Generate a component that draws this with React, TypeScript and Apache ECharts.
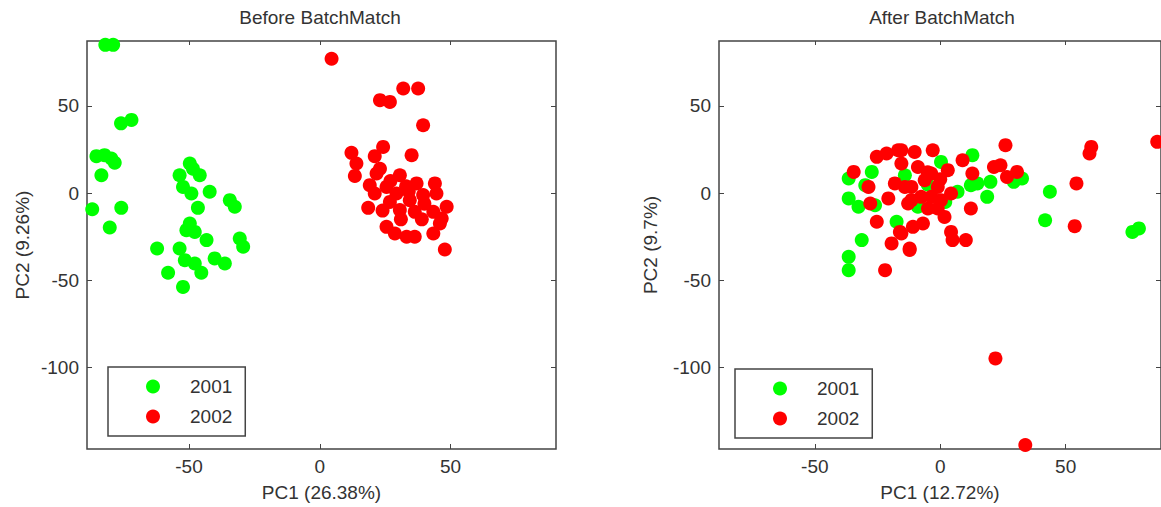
import React, { useEffect, useRef } from "react";
import * as echarts from "echarts";

const legendNames = ["2001", "2002"];
const xTickValues = [-50, 0, 50];
const yTickValues = [-100, -50, 0, 50];

const before2001: number[][] = [
  [-82, 85], [-79, 85], [-76, 40], [-72, 42], [-85.4, 21.2], [-82.3, 21.8], [-79.7, 19.9], [-78.4, 17.4],
  [-83.5, 10.3], [-87, -9.2], [-75.9, -8.4], [-80.3, -19.7],
  [-49.7, 17], [-48.5, 14], [-53.6, 10.3], [-45.9, 10.3], [-52.3, 3.6], [-49.1, -0.2], [-42.1, 0.8],
  [-46.6, -8.4], [-34.4, -4], [-32.5, -7.8], [-49.7, -17.4], [-51, -21.2], [-47.8, -22.2], [-43.3, -26.9],
  [-30.6, -26], [-29.3, -30.7], [-62.2, -31.7], [-53.6, -31.7], [-51.6, -38.4], [-47.8, -40.3],
  [-45.3, -45.6], [-40.2, -37.4], [-36.3, -40.3], [-58, -45.6], [-52.3, -53.7],
];

const before2002: number[][] = [
  [4.5, 77], [23, 53.3], [26.8, 52.3], [31.9, 60], [37.6, 60], [39.5, 38.9], [24.2, 26.5], [12.1, 23.1],
  [21, 21.2], [35.1, 21.8], [14, 17], [13.4, 9.9], [21.7, 11.3], [23, 14], [30.6, 10.3], [27, 7],
  [19.1, 4.6], [25.5, 3.6], [33, 4], [37, 5.6], [44, 5.6], [21, -0.2], [29.3, -0.2], [34, 1],
  [39.5, -1.1], [44.6, -0.2], [26.8, -5], [34.4, -4], [40, -6], [48.5, -7.8], [18.5, -8.4], [24, -10],
  [30.6, -9.7], [36.3, -10.7], [43.4, -10.7], [46.6, -14.5], [45.9, -17.4], [25.5, -19.3], [28.7, -23.1],
  [33.2, -25], [36.3, -25], [43.4, -23.1], [47.8, -32.3], [31, -15], [39, -15],
];

const after2001: number[][] = [
  [-36.5, 8.4], [-27.3, 12.2], [-36.5, -3], [-32.6, -7.8], [-29.9, 4.6], [-26, -6.9], [-31.3, -26.9],
  [-36.5, -36.5], [-36.5, -44.1], [-17.4, -16.4], [-14.1, 10.3], [-8.9, -7.8], [0.3, 17.9], [12.8, 21.8],
  [12.2, 4.6], [14.8, 5.6], [20, 6.5], [18.7, -2.1], [29.3, 6.5], [32.6, 8.4], [43.7, 0.8], [41.8, -15.5],
  [76.6, -22.2], [79.2, -20.2], [6.9, 0.8], [-5, 5], [2, -5],
];

const after2002: number[][] = [
  [-34.5, 12.2], [-28.6, 3.6], [-27.9, -5.9], [-25.3, 20.8], [-21.4, 22.7], [-16.8, 24.6], [-10.2, 23.6],
  [-15.5, 24.6], [-3, 24.6], [-20.7, -3], [-18.1, 5.6], [-12.8, -5.9], [-25.3, -16.4], [-16.1, -22.2],
  [-19.4, -28.8], [-12.2, -32.6], [-22, -44.1], [-10.9, -19.3], [-6.9, -17.4], [-6.2, 7.4], [-8.9, 15],
  [-11.5, 3.6], [-7.6, -2.1], [-3.6, 11.3], [-1, 3.6], [3, 13.2], [4.3, -0.2], [0.3, -4], [-3.6, -2.1],
  [-4.9, -8.8], [-11.5, -4], [-14.1, 3.6], [-15.5, 17], [-1, -8.8], [1.7, -13.6], [8.9, 18.9], [12.8, 11.3],
  [21.4, 15], [24, 16], [26.6, 9.3], [30.6, 12.2], [12.2, -8.8], [4.3, -22.2], [10.2, -26.9], [4.9, -26.9],
  [-15.5, -23.1], [-12.2, -31.7], [26, 27.5], [60.2, 26.5], [59.5, 22.7], [86.5, 29.4], [54.3, 5.6],
  [53.6, -18.9], [22, -94.7], [33.9, -144.3], [-5, 12], [0, 8],
];

const FONT = "'Liberation Sans', Arial, Helvetica, sans-serif";
const TEXT = "#333333";
const AXIS = "#444444";
const GREEN = "#00ff00";
const RED = "#ff0000";

export default function App() {
  const ref = useRef<HTMLDivElement>(null);

  useEffect(() => {
    if (!ref.current) return;
    const chart = echarts.init(ref.current, undefined, { renderer: "svg" });

    const tick = { show: true, inside: true, length: 5, lineStyle: { color: AXIS, width: 1 } };
    const label = { color: TEXT, fontSize: 19, fontFamily: FONT };
    const noLine = { show: false, onZero: false };

    const xBottom = (gridIndex: number, min: number, max: number, name: string) => ({
      type: "value", gridIndex, min, max, position: "bottom",
      name, nameLocation: "middle", nameGap: 34,
      nameTextStyle: { ...label },
      axisLine: noLine,
      splitLine: { show: false },
      axisTick: { ...tick, customValues: xTickValues },
      axisLabel: { ...label, margin: 8, customValues: xTickValues },
    });
    const xTop = (gridIndex: number, min: number, max: number) => ({
      type: "value", gridIndex, min, max, position: "top",
      axisLine: noLine, splitLine: { show: false },
      axisTick: { ...tick, length: 4, customValues: xTickValues },
      axisLabel: { show: false },
    });
    const yLeft = (gridIndex: number, name: string, gap: number) => ({
      type: "value", gridIndex, min: -146.6, max: 87.2, position: "left",
      name, nameLocation: "middle", nameGap: gap, nameRotate: 90,
      nameTextStyle: { ...label },
      axisLine: noLine, splitLine: { show: false },
      axisTick: { ...tick, customValues: yTickValues },
      axisLabel: { ...label, margin: 8, customValues: yTickValues },
    });
    const yRight = (gridIndex: number) => ({
      type: "value", gridIndex, min: -146.6, max: 87.2, position: "right",
      axisLine: noLine, splitLine: { show: false },
      axisTick: { ...tick, customValues: yTickValues },
      axisLabel: { show: false },
    });

    const scatter = (name: string, data: number[][], color: string, axis: number) => ({
      type: "scatter", name, data, symbol: "circle", symbolSize: 14,
      xAxisIndex: axis, yAxisIndex: axis, itemStyle: { color, opacity: 1 },
    });

    const legend = (left: number, top: number) => ({
      data: legendNames, orient: "vertical", left, top,
      icon: "circle", itemWidth: 64, itemHeight: 14, itemGap: 11,
      padding: [10, 13, 10, 38],
      borderColor: AXIS, borderWidth: 1.5, backgroundColor: "#ffffff",
      textStyle: { ...label },
      selectedMode: false,
    });

    chart.setOption({
      animation: false,
      backgroundColor: "#ffffff",
      title: [
        { text: "Before BatchMatch", left: 320, top: 8, padding: 0, textAlign: "center",
          textStyle: { ...label, fontWeight: "normal" } },
        { text: "After BatchMatch", left: 942, top: 8, padding: 0, textAlign: "center",
          textStyle: { ...label, fontWeight: "normal" } },
      ],
      grid: [
        { left: 87, top: 41, width: 469, height: 408, show: true, borderColor: AXIS, borderWidth: 1.5, backgroundColor: "transparent" },
        { left: 719, top: 41, width: 446, height: 408, show: true, borderColor: AXIS, borderWidth: 1.5, backgroundColor: "transparent" },
      ],
      xAxis: [
        xBottom(0, -89, 90.3, "PC1 (26.38%)"),
        xBottom(1, -88.2, 88, "PC1 (12.72%)"),
        xTop(0, -89, 90.3),
        xTop(1, -88.2, 88),
      ],
      yAxis: [
        yLeft(0, "PC2 (9.26%)", 55),
        yLeft(1, "PC2 (9.7%)", 59),
        yRight(0),
        yRight(1),
      ],
      legend: [legend(108, 367), legend(735, 369)],
      series: [
        scatter("2001", before2001, GREEN, 0),
        scatter("2002", before2002, RED, 0),
        scatter("2001", after2001, GREEN, 1),
        scatter("2002", after2002, RED, 1),
      ],
    });

    return () => chart.dispose();
  }, []);

  return (
    <div
      ref={ref}
      style={{ position: "fixed", left: 0, top: 0, width: 1161, height: 507, background: "#fff" }}
    />
  );
}
